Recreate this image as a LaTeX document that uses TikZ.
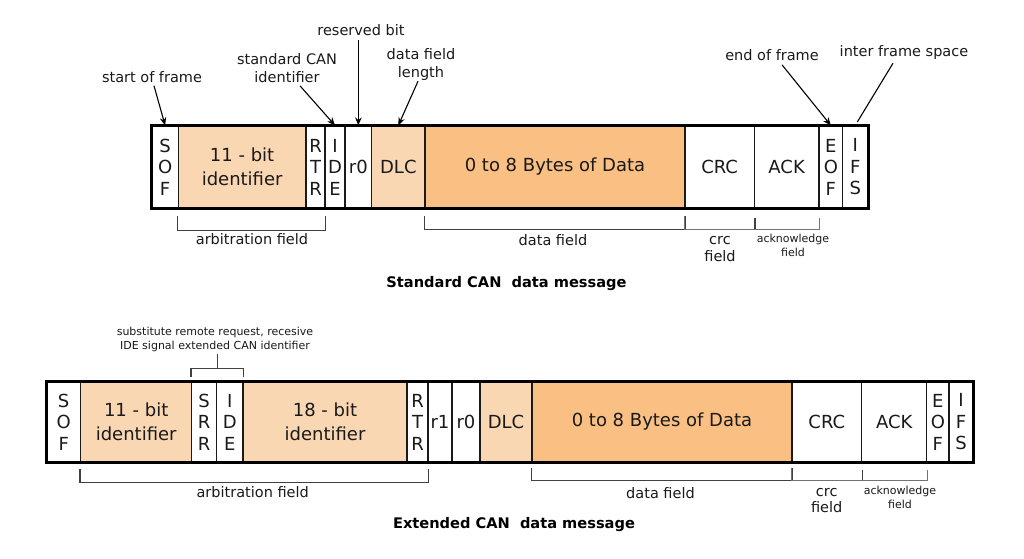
\documentclass[tikz,border=0pt]{standalone}
\usepackage{fontspec}
\setmainfont{DejaVu Sans}
\usetikzlibrary{arrows.meta,calc}
\definecolor{lightpeach}{HTML}{FAD7B3}
\definecolor{orangedata}{HTML}{FABF82}
\definecolor{ink}{HTML}{1A1A1A}
\newcommand\cellat[7]{\node[cell, fill=#6, minimum width={#3-#2}, minimum height={#5-#4}] (#1) at ({(#2+#3)/2},{(#4+#5)/2}) {#7};}
\begin{document}
\begin{tikzpicture}[x=1pt,y=-1pt,
  cell/.style={draw=ink, line width=1.2pt, inner sep=0pt, text=ink, align=center, font=\fontsize{18}{21.5}\selectfont},
  lbl/.style={text=ink, align=center, font=\fontsize{14.5}{18}\selectfont, inner sep=0pt},
  small/.style={text=ink, align=center, font=\fontsize{11}{14}\selectfont, inner sep=0pt},
  ttl/.style={text=black, font=\fontsize{14.6}{17}\selectfont\bfseries, inner sep=0pt},
  arr/.style={draw=black, line width=1.1pt, -{Stealth[length=8pt,width=6.5pt]}},
  plain/.style={draw=black, line width=1.1pt},
  brk/.style={draw=black!75, line width=1.4pt},
  brkl/.style={draw=black!55, line width=0.9pt},
  frame/.style={draw=black, line width=2.8pt}
]
\useasboundingbox[fill=white] (0,0) rectangle (1024,558);

% ---------- Standard frame ----------
\cellat{tSOF}{152}{178.3}{126}{208}{white}{S\\O\\F}
\cellat{tID}{178.3}{306}{126}{208}{lightpeach}{11 - bit\\[2.5pt]identifier}
\cellat{tRTR}{306}{325}{126}{208}{white}{R\\T\\R}
\cellat{tIDE}{325}{345}{126}{208}{white}{I\\D\\E}
\cellat{tR0}{345}{371.7}{126}{208}{white}{r0}
\cellat{tDLC}{371.7}{425}{126}{208}{lightpeach}{DLC}
\cellat{tData}{425}{685}{126}{208}{orangedata}{0 to 8 Bytes of Data}
\cellat{tCRC}{685}{754.3}{126}{208}{white}{CRC}
\cellat{tACK}{754.3}{819}{126}{208}{white}{ACK}
\cellat{tEOF}{819}{842.7}{126}{208}{white}{E\\O\\F}
\cellat{tIFS}{842.7}{867.7}{126}{208}{white}{I\\F\\S}
\draw[frame] (tSOF.north west) rectangle (tIFS.south east);

% labels above
\node[lbl] (lsof) at (152,77) {start of frame};
\node[lbl] (lstd) at (287,68) {standard CAN\\identifier};
\node[lbl] (lres) at (361,30) {reserved bit};
\node[lbl] (ldlc) at (421,64) {data field\\length};
\node[lbl] (leof) at (772,55) {end of frame};
\node[lbl] (lifs) at (904,52) {inter frame space};

\draw[arr] ($(lsof.south)+(2,3)$) -- (tSOF.north);
\draw[arr] ($(lstd.south)+(13,3)$) -- (tIDE.north);
\draw[arr] (lres.south -| tR0.north) ++(0,4) -- (tR0.north);
\draw[arr] ($(ldlc.south)+(-3,1)$) -- (tDLC.north);
\draw[arr] ($(leof.south)+(10,4)$) -- (tEOF.north);
\draw[plain, shorten >=4pt] ($(lifs.south)+(-11,4)$) -- (tIFS.north);

% brackets below
\draw[brk] ($(tID.south west)+(0,7)$) -- ++(0,15) -| ($(tRTR.south east)+(0,7)$);
\draw[brk] ($(tData.south west)+(0,7)$) -- ++(0,14) -| ($(tData.south east)+(0,7)$);
\draw[brkl] ($(tCRC.south west)+(0,7)$) -- ++(0,14) -| ($(tCRC.south east)+(0,9)$);
\draw[brk] ($(tCRC.south east)+(0,9)$) -- ++(0,12);
\draw[brkl] ($(tACK.south west)+(0,21)$) -| ($(tACK.south east)+(0,9)$);

\node[lbl] (larb) at (252,239) {arbitration field};
\node[lbl] (ldata) at (553,240) {data field};
\node[lbl, font=\fontsize{14.5}{17}\selectfont] (lcrc) at (720,249) {crc\\field};
\node[small] (lack) at (793,245) {acknowledge\\field};

\node[ttl] (title1) at (506.5,284) {Standard CAN\ \ data message};

% ---------- Extended frame ----------
\cellat{bSOF}{46.7}{80.7}{382}{462}{white}{S\\O\\F}
\cellat{bID}{80.7}{191.7}{382}{462}{lightpeach}{11 - bit\\[2pt]identifier}
\cellat{bSRR}{191.7}{216.7}{382}{462}{white}{S\\R\\R}
\cellat{bIDE}{216.7}{243}{382}{462}{white}{I\\D\\E}
\cellat{bID18}{243}{407}{382}{462}{lightpeach}{18 - bit\\[2pt]identifier}
\cellat{bRTR}{407}{428}{382}{462}{white}{R\\T\\R}
\cellat{bR1}{428}{452}{382}{462}{white}{r1}
\cellat{bR0}{452}{480}{382}{462}{white}{r0}
\cellat{bDLC}{480}{532}{382}{462}{lightpeach}{DLC}
\cellat{bData}{532}{792}{382}{462}{orangedata}{0 to 8 Bytes of Data}
\cellat{bCRC}{792}{861.7}{382}{462}{white}{CRC}
\cellat{bACK}{861.7}{926.7}{382}{462}{white}{ACK}
\cellat{bEOF}{926.7}{949}{382}{462}{white}{E\\O\\F}
\cellat{bIFS}{949}{973}{382}{462}{white}{I\\F\\S}
\draw[frame] (bSOF.north west) rectangle (bIFS.south east);

% bracket above SRR / IDE
\node[small] (lsub) at (215,339.5) {substitute remote request, recesive\\IDE signal extended CAN identifier};
\draw[brk] ($(bSRR.north west)+(0,-4)$) -- ++(0,-9) -| ($(bIDE.north east)+(0,-4)$);
\draw[brk] ($(bSRR.north east)+(0,-13)$) -- ++(0,-14);

% brackets below
\draw[brk] ($(bID.south west)+(0,6)$) -- ++(0,14) -| ($(bRTR.south east)+(0,6)$);
\draw[brk] ($(bData.south west)+(0,5)$) -- ++(0,13) -| ($(bData.south east)+(0,5)$);
\draw[brkl] ($(bCRC.south west)+(0,5)$) -- ++(0,13) -| ($(bCRC.south east)+(0,7)$);
\draw[brk] ($(bCRC.south east)+(0,7)$) -- ++(0,11);
\draw[brkl] ($(bACK.south west)+(0,18)$) -| ($(bACK.south east)+(0,7)$);

\node[lbl] (barb) at (252.7,491.7) {arbitration field};
\node[lbl] (bdata) at (660.5,492.7) {data field};
\node[lbl, font=\fontsize{14.5}{15.5}\selectfont] (bcrc) at (826.7,500.5) {crc\\field};
\node[small] (back) at (900,497.5) {acknowledge\\field};

\node[ttl] (title2) at (514,525) {Extended CAN\ \ data message};
\end{tikzpicture}
\end{document}
